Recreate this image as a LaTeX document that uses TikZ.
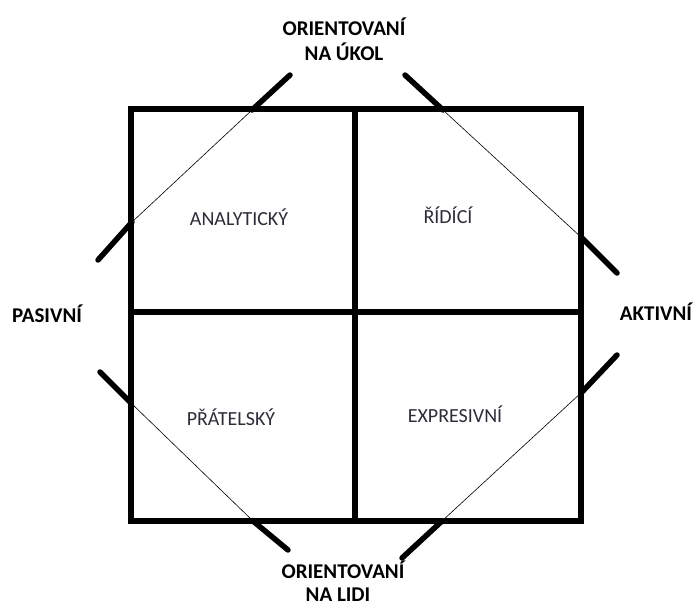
\documentclass[tikz,border=0pt]{standalone}
\usepackage{fontspec}
\setmainfont{Carlito}
\usepackage{xcolor}
\usepackage{tikz}

\definecolor{quadtext}{RGB}{45,45,55}

\begin{document}
\begin{tikzpicture}[x=1pt,y=-1pt,
  frame/.style={line width=5.5pt},
  slash/.style={line width=5.5pt,line cap=round},
  hair/.style={line width=0.6pt},
  pole/.style={font=\fontsize{21}{25}\selectfont\bfseries,anchor=base,inner sep=0pt},
  kind/.style={font=\fontsize{20}{24}\selectfont,text=quadtext,anchor=base,inner sep=0pt}]
\useasboundingbox (0,0) rectangle (693,606);
% the four fields
\coordinate (tl) at (131,109);
\coordinate (br) at (581,521);
\draw[frame] (tl) rectangle (br);
\draw[frame] (355,109) -- (355,521);
\draw[frame] (131,312) -- (581,312);
% diagonals: thick outside, thin inside
\foreach \n/\a/\b/\c/\d in {nw/{290,75}/{252,110}/{132,222}/{98,260},
                            ne/{405,75}/{443,110}/{582,238}/{617,273},
                            sw/{100,372}/{131,403}/{253,521}/{288,550},
                            se/{617,355}/{582,392}/{442,521}/{402,558}} {
    \coordinate (\n1) at (\a);
    \coordinate (\n2) at (\b);
    \coordinate (\n3) at (\c);
    \coordinate (\n4) at (\d);
    \draw[slash] (\n1) -- (\n2);
    \draw[hair] (\n2) -- (\n3);
    \draw[slash] (\n3) -- (\n4);
}
% quadrant names
\node[kind] (analyticky) at (239,225) {ANALYTICKÝ};
\node[kind] (ridici) at (448,223) {ŘÍDÍCÍ};
\node[kind] (pratelsky) at (231,425) {PŘÁTELSKÝ};
\node[kind] (expresivni) at (455,422) {EXPRESIVNÍ};
% axis ends
\node[pole] (ukol1) at (344,35) {ORIENTOVANÍ};
\node[pole] (ukol2) at (344,60) {NA ÚKOL};
\node[pole] (lidi1) at (343,578) {ORIENTOVANÍ};
\node[pole] (lidi2) at (338,601) {NA LIDI};
\node[pole] (pasivni) at (47,322) {PASIVNÍ};
\node[pole] (aktivni) at (656,320) {AKTIVNÍ};
\end{tikzpicture}
\end{document}
